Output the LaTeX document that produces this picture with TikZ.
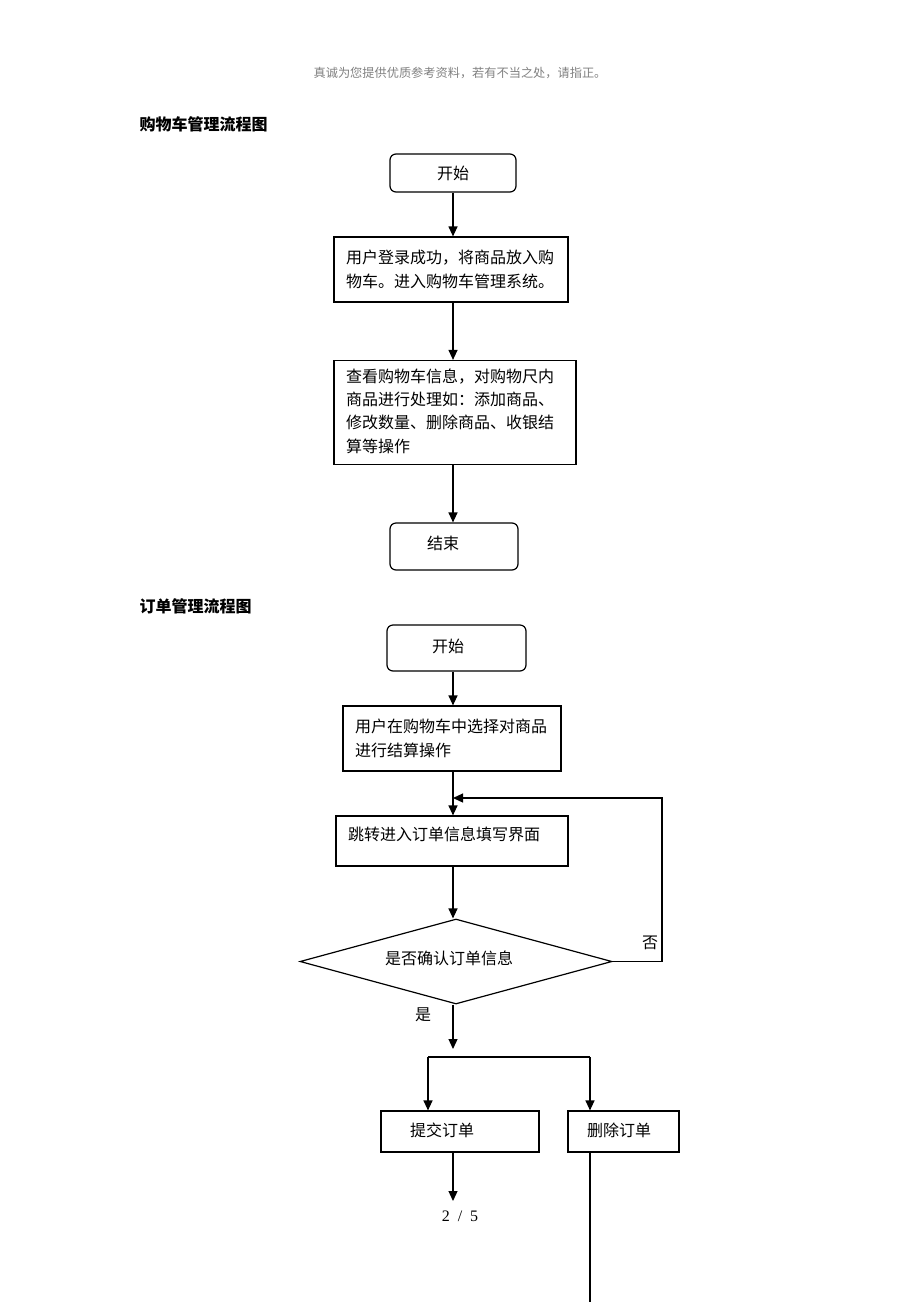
\documentclass[tikz,border=0pt]{standalone}
\usepackage{fontspec}
\setmainfont{Liberation Serif}
\newfontfamily\cjk{Noto Sans CJK SC}
\usetikzlibrary{shapes.geometric,arrows.meta}

\begin{document}
\begin{tikzpicture}[x=1pt, y=-1pt, line width=1.2pt,
    every node/.style={font=\cjk\fontsize{16pt}{23.3pt}\selectfont, inner sep=0pt},
    termbox/.style={draw, rounded corners=6pt},
    procbox/.style={draw, align=left, inner xsep=12pt},
    plainbox/.style={draw},
    decbox/.style={draw, diamond, aspect=3.7, minimum width=312pt, minimum height=85pt},
    flow/.style={-{Triangle[length=10pt,width=9pt]}}]
    \useasboundingbox (0,0) rectangle (920,1302);
    \coordinate (axis) at (453,0);

    % En-tete
    \node[text=black!50, font=\cjk\fontsize{12.2pt}{14pt}\selectfont] (note) at (460,73) {真诚为您提供优质参考资料，若有不当之处，请指正。};
    \node[anchor=west, font=\cjk\bfseries\fontsize{16pt}{20pt}\selectfont] (title1) at (139,124) {购物车管理流程图};

    % Les sommets (panier)
    \node[termbox, minimum width=126pt, minimum height=38pt] (start1) at (453,173) {开始};
    \node[procbox, text width=210pt, minimum height=65pt] (login) at (451,269.5) {用户登录成功，将商品放入购\\物车。进入购物车管理系统。};
    \node[procbox, text width=218pt, minimum height=104pt] (cart) at (455,412.5) {查看购物车信息，对购物尺内\\商品进行处理如：添加商品、\\修改数量、删除商品、收银结\\算等操作\rule[-4pt]{0pt}{4pt}};
    \node[termbox, minimum width=128pt, minimum height=47pt] (end1) at (454,546.5) {结束\hspace*{22pt}\rule[-7pt]{0pt}{7pt}};

    % Les aretes (panier)
    \draw[flow] (start1.south -| axis) -- (login.north -| axis);
    \draw[flow] (login.south -| axis) -- (cart.north -| axis);
    \draw[flow] (cart.south -| axis) -- (end1.north -| axis);

    % Les sommets (commande)
    \node[anchor=west, font=\cjk\bfseries\fontsize{16pt}{20pt}\selectfont] (title2) at (139,606) {订单管理流程图};
    \node[termbox, minimum width=139pt, minimum height=46pt] (start2) at (456.5,648) {开始\hspace*{17pt}\rule[-5pt]{0pt}{5pt}};
    \node[procbox, text width=194pt, minimum height=65pt] (select) at (452,738.5) {用户在购物车中选择对商品\\进行结算操作};
    \node[procbox, text width=208pt, minimum height=50pt] (jump) at (452,841) {跳转进入订单信息填写界面\rule[-14pt]{0pt}{14pt}};
    \node[decbox] (check) at (456,961.5) {是否确认订单信息\hspace*{14pt}\rule[-8pt]{0pt}{8pt}};
    \node (no) at (650,943) {否};
    \node (yes) at (423,1015) {是};
    \node[plainbox, minimum width=158pt, minimum height=41pt] (submit) at (460,1131.5) {提交订单\hspace*{36pt}\rule[-3pt]{0pt}{3pt}};
    \node[plainbox, minimum width=111pt, minimum height=41pt] (delete) at (623.5,1131.5) {删除订单\hspace*{9pt}\rule[-3pt]{0pt}{3pt}};
    \node[font=\rmfamily\fontsize{16pt}{18pt}\selectfont] (pagenum) at (460,1216) {2 \ / \ 5};

    \coordinate (loopR) at (662,798);
    \coordinate (split) at (453,1049);
    \coordinate (forkL) at (428,1057);
    \coordinate (forkR) at (590,1057);
    \coordinate (pageEnd) at (453,1201);
    \coordinate (bottomEnd) at (590,1302);

    % Les aretes (commande)
    \draw[flow] (start2.south -| axis) -- (select.north -| axis);
    \draw[flow] (select.south -| axis) -- (jump.north -| axis);
    \draw[flow] (jump.south -| axis) -- (check.north -| axis);
    \draw[flow] (check.east) -| (loopR) -- (loopR -| axis);
    \draw[flow] (check.south -| axis) -- (split);
    \draw (forkL) -- (forkR);
    \draw[flow] (forkL) -- (submit.north -| forkL);
    \draw[flow] (forkR) -- (delete.north -| forkR);
    \draw[flow] (submit.south -| pageEnd) -- (pageEnd);
    \draw (delete.south -| forkR) -- (bottomEnd);
\end{tikzpicture}
\end{document}
